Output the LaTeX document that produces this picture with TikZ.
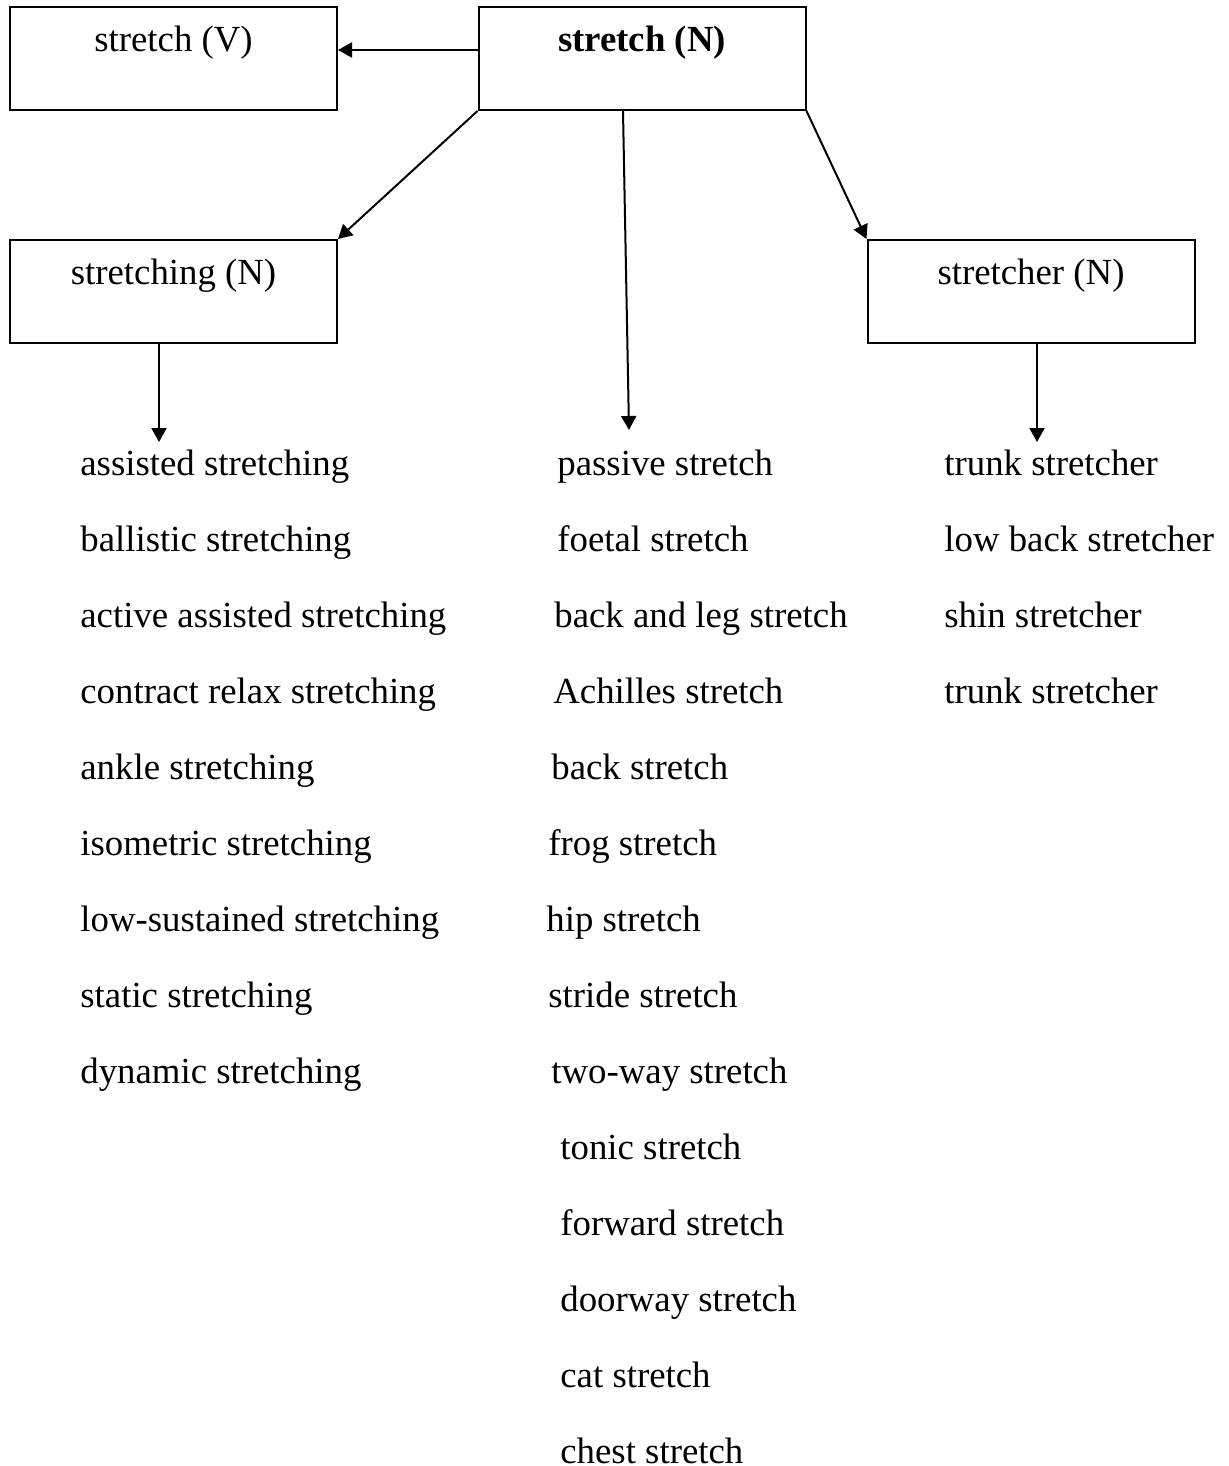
\documentclass[tikz,border=0pt]{standalone}
\usepackage{fontspec}
\setmainfont{Liberation Serif}
\usetikzlibrary{arrows.meta}
\tikzset{
  every picture/.style={line join=miter},
  box/.style={draw, line width=1pt, minimum width=163.5pt, minimum height=51.5pt, inner sep=0pt},
  lab/.style={font=\fontsize{18.4}{22}\selectfont, inner sep=0pt, anchor=base},
  item/.style={lab, anchor=base west},
  arr/.style={draw, line width=1pt, -{Triangle[length=7pt,width=7.5pt]}}
}
\begin{document}
\begin{tikzpicture}[x=0.5pt, y=-0.5pt]
  \useasboundingbox (0,0) rectangle (1228,1466);

  % boxes
  \node[box] (sv) at (173.5,58.5) {};
  \node[box] (sn) at (642,58.5) {};
  \node[box] (sg) at (173.5,291.5) {};
  \node[box] (sr) at (1031,291.5) {};

  % box labels
  \node[lab] (svt) at (173.5,52) {stretch (V)};
  \node[lab] (snt) at (642,52) {\bfseries stretch (N)};
  \node[lab] (sgt) at (173.5,285) {stretching (N)};
  \node[lab] (srt) at (1031,285) {stretcher (N)};

  % free ends of the arrows into the lists
  \coordinate (gend) at (159,442);
  \coordinate (nend) at (629,430);
  \coordinate (rend) at (1037,442);

  % connectors
  \draw[arr] ([yshift=4.25pt]sn.west) -- ([yshift=4.25pt]sv.east);
  \draw[arr] (sn.south west) -- (sg.north east);
  \draw[arr] (sn.south east) -- (sr.north west);
  \draw[arr] ([xshift=-9.5pt]sn.south) -- (nend);
  \draw[arr] ([xshift=-7.25pt]sg.south) -- (gend);
  \draw[arr] ([xshift=3pt]sr.south) -- (rend);

  % left list
  \foreach \i/\yy/\txt in {1/475/assisted stretching, 2/551/ballistic stretching,
      3/627/active assisted stretching, 4/703/contract relax stretching,
      5/779/ankle stretching, 6/855/isometric stretching,
      7/931/low-sustained stretching, 8/1007/static stretching,
      9/1083/dynamic stretching}
    \node[item] (g\i) at (80,\yy) {\txt};

  % middle list
  \foreach \i/\xx/\yy/\txt in {1/557/475/passive stretch, 2/557/551/foetal stretch,
      3/554/627/back and leg stretch, 4/553/703/Achilles stretch,
      5/551/779/back stretch, 6/548/855/frog stretch,
      7/546/931/hip stretch, 8/548/1007/stride stretch,
      9/551/1083/two-way stretch, 10/560/1159/tonic stretch,
      11/560/1235/forward stretch, 12/560/1311/doorway stretch,
      13/560/1387/cat stretch, 14/560/1463/chest stretch}
    \node[item] (n\i) at (\xx,\yy) {\txt};

  % right list
  \foreach \i/\yy/\txt in {1/475/trunk stretcher, 2/551/low back stretcher,
      3/627/shin stretcher, 4/703/trunk stretcher}
    \node[item] (r\i) at (944,\yy) {\txt};
\end{tikzpicture}
\end{document}
